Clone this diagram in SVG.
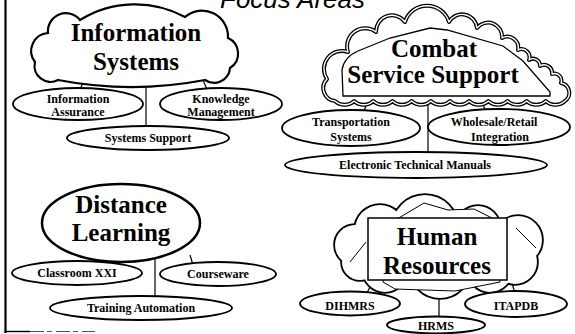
<svg xmlns="http://www.w3.org/2000/svg" xmlns:xlink="http://www.w3.org/1999/xlink" width="575" height="334" viewBox="0 0 575 334">
<style>
.lbl{font-family:"Liberation Serif","Times New Roman",serif;font-weight:bold;font-size:12px;text-anchor:middle;fill:#000}
.big{font-size:25px}
.title{font-family:"Liberation Sans",Arial,sans-serif;font-style:italic;font-size:26px;fill:#000}
.ell{fill:#fff;stroke:#000;stroke-width:1.8}
.conn line{stroke:#000;stroke-width:1.2}
.cloud{fill:#fff;stroke:#000;stroke-width:2.2}
</style>
<defs>
<path id="cssOutline" d="M335,101 A13,13 0 0 1 327,79 A18,18 0 0 1 348,52 A18,18 0 0 1 376,32 A16,16 0 0 1 405,22 A23,23 0 0 1 449,22 A15,15 0 0 1 477,28 A14,14 0 0 1 502,38 A11,11 0 0 1 518,50 A8,8 0 0 1 529,60 A7,7 0 0 1 540,66 A8,8 0 0 1 552,74 A7,7 0 0 1 561,83 A10,10 0 0 1 565,101 a14,14 0 0 1 -19.17,0 a14,14 0 0 1 -19.17,0 a14,14 0 0 1 -19.17,0 a14,14 0 0 1 -19.17,0 a14,14 0 0 1 -19.17,0 a14,14 0 0 1 -19.17,0 a14,14 0 0 1 -19.17,0 a14,14 0 0 1 -19.17,0 a14,14 0 0 1 -19.17,0 a14,14 0 0 1 -19.17,0 a14,14 0 0 1 -19.17,0 a14,14 0 0 1 -19.13,0 Z"/>
<g id="hrBubbles">
<circle cx="355" cy="245" r="20"/>
<circle cx="380" cy="230" r="25"/>
<circle cx="425" cy="228" r="33"/>
<circle cx="478" cy="228" r="22"/>
<circle cx="518" cy="240" r="24"/>
<circle cx="515" cy="262" r="22"/>
<circle cx="490" cy="270" r="22"/>
<circle cx="440" cy="268" r="30"/>
<circle cx="385" cy="270" r="22"/>
<circle cx="360" cy="262" r="18"/>
</g>
</defs>
<rect x="0" y="0" width="575" height="334" fill="#fff"/>
<g id="frame">
<line x1="5.5" y1="0" x2="5.5" y2="333" stroke="#000" stroke-width="2.2"/>
<line x1="4.5" y1="331.5" x2="30" y2="331.5" stroke="#000" stroke-width="1.4"/>
<line x1="30" y1="331.5" x2="95" y2="331.5" stroke="#555" stroke-width="1" stroke-dasharray="14 3 5 4"/>
</g>
<text class="title" x="220" y="8">Focus Areas</text>
<g id="connectors" class="conn">
<line x1="84" y1="80" x2="79" y2="92"/>
<line x1="146" y1="80" x2="146" y2="128"/>
<line x1="203" y1="80" x2="208" y2="92"/>
<line x1="370" y1="97" x2="363" y2="113"/>
<line x1="428" y1="97" x2="428" y2="154"/>
<line x1="480" y1="97" x2="486" y2="112"/>
<line x1="94" y1="255" x2="91" y2="265"/>
<line x1="155" y1="258" x2="155" y2="298"/>
<line x1="190" y1="255" x2="193" y2="265"/>
<line x1="372" y1="283" x2="366" y2="295"/>
<line x1="439" y1="290" x2="439" y2="318"/>
<line x1="511" y1="280" x2="515" y2="293"/>
</g>
<g id="information-systems">
<path class="cloud" d="M58,80 A16,16 0 0 1 35,62 A18,18 0 0 1 48,33 A18,18 0 0 1 80,20 A105,105 0 0 1 185,17 A26,26 0 0 1 228,38 A17,17 0 0 1 230,68 A16,16 0 0 1 205,80 A390,390 0 0 1 58,80 Z"/>
<text class="lbl big" x="136" y="41">Information</text>
<text class="lbl big" x="136" y="70">Systems</text>
</g>
<g id="information-assurance">
<ellipse class="ell" cx="78" cy="104" rx="65" ry="16"/>
<text class="lbl" x="78" y="103">Information</text>
<text class="lbl" x="78" y="116">Assurance</text>
</g>
<g id="knowledge-management">
<ellipse class="ell" cx="221" cy="104" rx="61" ry="16"/>
<text class="lbl" x="221" y="103">Knowledge</text>
<text class="lbl" x="221" y="116">Management</text>
</g>
<g id="systems-support">
<ellipse class="ell" cx="148" cy="138" rx="81" ry="12"/>
<text class="lbl" x="148" y="142">Systems Support</text>
</g>
<g id="combat-service-support">
<use xlink:href="#cssOutline" href="#cssOutline" fill="#fff" stroke="#000" stroke-width="4" stroke-linejoin="round"/>
<use xlink:href="#cssOutline" href="#cssOutline" fill="none" stroke="#fff" stroke-width="1.4" stroke-linejoin="round"/>
<path d="M343,96 L342,70 Q344,57 358,51 L390,38 L430,28 L447,30 L503,46 L523,61 L550,92 L550,96 Z" fill="#fff" stroke="#000" stroke-width="1.3"/>
<text class="lbl big" x="434" y="57">Combat</text>
<text class="lbl big" x="433" y="83">Service Support</text>
</g>
<g id="transportation-systems">
<ellipse class="ell" cx="351" cy="128" rx="69" ry="18"/>
<text class="lbl" x="351" y="126">Transportation</text>
<text class="lbl" x="351" y="141">Systems</text>
</g>
<g id="wholesale-retail-integration">
<ellipse class="ell" cx="499" cy="127" rx="71" ry="18"/>
<text class="lbl" x="494" y="126">Wholesale/Retail</text>
<text class="lbl" x="500" y="141">Integration</text>
</g>
<g id="electronic-technical-manuals">
<ellipse class="ell" cx="416" cy="165" rx="131" ry="13"/>
<text class="lbl" x="415" y="169">Electronic Technical Manuals</text>
</g>
<g id="distance-learning">
<ellipse cx="121" cy="223" rx="79" ry="39" fill="#fff" stroke="#000" stroke-width="2.5"/>
<text class="lbl big" x="121" y="213">Distance</text>
<text class="lbl big" x="121" y="241">Learning</text>
</g>
<g id="classroom-xxi">
<ellipse class="ell" cx="77" cy="273" rx="65" ry="12"/>
<text class="lbl" x="77" y="277">Classroom XXI</text>
</g>
<g id="courseware">
<ellipse class="ell" cx="218" cy="274" rx="58" ry="12"/>
<text class="lbl" x="218" y="278">Courseware</text>
</g>
<g id="training-automation">
<ellipse class="ell" cx="141" cy="308" rx="91" ry="12"/>
<text class="lbl" x="141" y="312">Training Automation</text>
</g>
<g id="human-resources">
<use xlink:href="#hrBubbles" href="#hrBubbles" fill="#000" stroke="#000" stroke-width="3.6"/>
<use xlink:href="#hrBubbles" href="#hrBubbles" fill="#fff" stroke="none"/>
<line x1="350" y1="262" x2="366" y2="242" stroke="#000" stroke-width="1"/>
<line x1="516" y1="228" x2="536" y2="248" stroke="#000" stroke-width="1"/>
<path d="M392,222 L424,203 L448,210 L474,209 L500,222 L500,282 L455,291 L395,289 L383,282 Z" fill="#fff" stroke="#000" stroke-width="1"/>
<rect x="368" y="218" width="139" height="62" fill="#fff" stroke="#000" stroke-width="1.5"/>
<text class="lbl big" x="437" y="245">Human</text>
<text class="lbl big" x="437" y="274">Resources</text>
</g>
<g id="dihmrs">
<ellipse class="ell" cx="350" cy="303.5" rx="50" ry="12"/>
<text class="lbl" x="350" y="310">DIHMRS</text>
</g>
<g id="itapdb">
<ellipse class="ell" cx="516" cy="304" rx="51" ry="13"/>
<text class="lbl" x="516" y="310">ITAPDB</text>
</g>
<g id="hrms">
<ellipse class="ell" cx="436" cy="325" rx="49" ry="8.5"/>
<text class="lbl" x="436" y="330">HRMS</text>
</g>
</svg>
